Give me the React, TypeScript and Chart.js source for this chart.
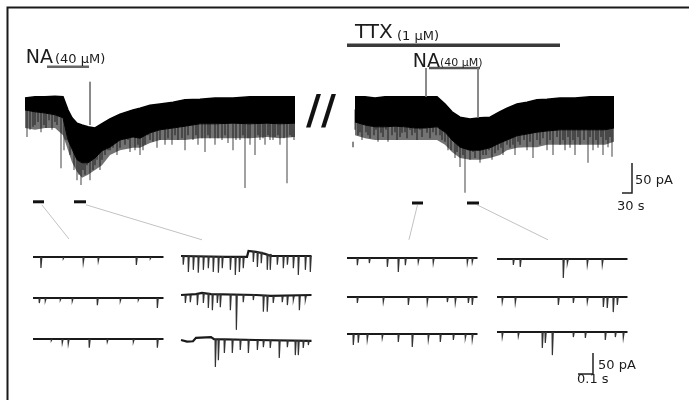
import React, { useEffect, useRef } from "react";
import { Chart, registerables } from "chart.js";

Chart.register(...registerables);

// ---------------- Whole-cell recordings ----------------
// time: s from the start of each recording, current: pA (0 = holding current)
const leftTime = [0, 30, 60, 90, 114, 129, 141, 156, 171, 189, 210, 231, 255, 285, 324, 345, 375, 405, 444, 480, 525, 570, 624, 675, 726, 765, 810];
const leftTop = [0, 2, 2, 3, 2, -20, -33, -42, -45, -48, -50, -43, -35, -27, -20, -17, -12, -10, -7, -3, -2, 0, 0, 2, 2, 2, 2];
// lower edge of the solid noise band
const leftLow = [-20, -23, -25, -28, -33, -70, -85, -103, -108, -108, -100, -88, -82, -70, -65, -67, -58, -53, -50, -47, -43, -43, -42, -43, -42, -43, -42];
// lower edge of the dense event fringe
const leftFringe = [-50, -53, -50, -50, -62, -87, -107, -123, -133, -128, -120, -112, -95, -87, -83, -83, -75, -70, -70, -70, -67, -67, -67, -67, -65, -67, -65];
// sEPSC peaks [time s, peak pA]
const leftSpikes = [
  [6, -65], [15, -53], [24, -48], [30, -45], [39, -40], [48, -57], [57, -45], [63, -50], [72, -37], [81, -53], [90, -40], [96, -45],
  [108, -117], [117, -87], [123, -70], [135, -95], [147, -120], [156, -137], [162, -128], [168, -145], [174, -120], [180, -128],
  [186, -112], [195, -137], [204, -120], [210, -112], [216, -103], [225, -120], [231, -103], [240, -95], [249, -87], [255, -87],
  [264, -83], [276, -95], [285, -83], [300, -78], [309, -70], [315, -90], [330, -87], [339, -78], [345, -95], [354, -87],
  [360, -78], [369, -62], [375, -70], [384, -73], [396, -83], [405, -70], [420, -78], [429, -67], [441, -78], [450, -62],
  [459, -70], [471, -67], [480, -87], [489, -62], [504, -70], [513, -62], [519, -78], [531, -67], [540, -90], [549, -62],
  [555, -67], [570, -78], [579, -67], [591, -70], [600, -62], [609, -75], [624, -87], [633, -70], [645, -70], [654, -62],
  [660, -150], [669, -67], [675, -78], [690, -95], [699, -62], [705, -70], [714, -67], [720, -78], [729, -62], [735, -70],
  [744, -70], [750, -65], [759, -62], [765, -78], [777, -67], [786, -142], [795, -62], [801, -65], [807, -70],
];

const rightTime = [0, 30, 60, 90, 120, 150, 180, 210, 246, 270, 291, 315, 345, 375, 405, 435, 456, 486, 516, 546, 576, 615, 660, 705, 750, 777];
const rightTop = [2, 2, 0, 2, 2, 2, 2, 2, 2, -10, -23, -32, -35, -33, -32, -23, -17, -10, -7, -3, -2, 0, 0, 2, 2, 2];
const rightLow = [-40, -45, -48, -48, -47, -48, -50, -50, -48, -57, -70, -82, -87, -87, -83, -75, -70, -63, -60, -57, -55, -53, -53, -53, -53, -50];
const rightFringe = [-62, -67, -70, -70, -70, -70, -70, -70, -70, -78, -90, -100, -103, -103, -100, -95, -87, -83, -82, -82, -78, -78, -78, -78, -78, -73];
const rightSpikes = [
  [0, -53], [9, -62], [15, -57], [21, -70], [33, -57], [39, -62], [45, -67], [57, -62], [63, -53], [69, -73], [78, -58],
  [84, -65], [93, -53], [99, -73], [111, -62], [120, -57], [126, -70], [135, -65], [141, -58], [150, -57], [156, -67],
  [165, -53], [171, -62], [180, -58], [186, -70], [195, -53], [201, -65], [216, -58], [225, -67], [234, -57], [243, -62],
  [255, -62], [261, -70], [270, -73], [279, -87], [288, -87], [300, -100], [306, -90], [315, -115], [324, -95], [330, -158],
  [339, -87], [345, -103], [354, -90], [360, -100], [369, -87], [375, -108], [384, -95], [393, -95], [402, -87], [411, -103],
  [420, -92], [429, -87], [438, -83], [444, -95], [456, -78], [465, -83], [474, -78], [480, -95], [489, -73], [495, -78],
  [507, -70], [516, -87], [525, -73], [534, -100], [546, -70], [555, -78], [564, -67], [576, -87], [585, -70], [594, -95],
  [606, -65], [615, -78], [624, -70], [630, -87], [639, -65], [645, -83], [654, -70], [660, -95], [669, -65], [675, -78],
  [687, -70], [699, -108], [705, -65], [714, -87], [723, -70], [729, -83], [738, -65], [744, -95], [753, -70], [759, -82],
  [765, -65], [771, -98],
];

// Drug applications (s, relative to their recording)
const naLeft = [66, 192];
const ttxRight = [-24, 615];
const naRight = [222, 375];
// Perfusion-switch artefacts [time s, from pA, to pA]
const leftArtefacts = [[195, 27, -45]];
const rightArtefacts = [[213, 50, 2], [369, 50, -33], [-6, -73, -82]];
// Epochs expanded below [start s, end s]
const leftEpochs = [[24, 57], [147, 183]];
const rightEpochs = [[171, 204], [336, 372]];

// ---------------- Expanded sweeps ----------------
// events [time s from sweep start, peak pA relative to sweep baseline]
const sweepDuration = 0.87;
const ctrlSweeps = [
  [[0.051, -26], [0.2, -4], [0.333, -14], [0.433, -10], [0.687, -19], [0.78, -4]],
  [[0.04, -12], [0.08, -7], [0.18, -5], [0.26, -7], [0.427, -17], [0.58, -7], [0.7, -5], [0.827, -24]],
  [[0.12, -4], [0.193, -10], [0.233, -12], [0.373, -21], [0.493, -7], [0.667, -7], [0.827, -21]],
];
const naSweeps = [
  [[0.013, -21], [0.047, -38], [0.08, -33], [0.113, -40], [0.147, -33], [0.18, -29], [0.213, -38], [0.247, -40], [0.273, -29],
    [0.327, -33], [0.36, -45], [0.387, -38], [0.413, -29], [0.48, -14], [0.507, -26], [0.533, -17], [0.573, -33], [0.593, -33],
    [0.64, -21], [0.68, -29], [0.707, -21], [0.747, -29], [0.78, -45], [0.827, -33], [0.86, -38]],
  [[0.027, -19], [0.06, -17], [0.107, -24], [0.147, -19], [0.18, -31], [0.207, -36], [0.24, -19], [0.26, -29], [0.327, -36],
    [0.367, -83], [0.413, -17], [0.48, -12], [0.547, -40], [0.573, -40], [0.613, -19], [0.673, -17], [0.707, -24], [0.747, -12],
    [0.787, -36], [0.827, -12]],
  [[0.227, -64], [0.247, -48], [0.287, -31], [0.34, -31], [0.393, -24], [0.447, -31], [0.507, -24], [0.547, -17], [0.593, -19],
    [0.653, -43], [0.707, -17], [0.76, -36], [0.78, -36], [0.813, -19], [0.847, -12]],
];
// baseline drift of the NA sweeps [time s, pA]
const naSweepBaselines = [
  [[0, 0], [0.3, -2], [0.44, -2], [0.45, 12], [0.5, 10], [0.56, 5], [0.6, 0], [0.87, 0]],
  [[0, 0], [0.1, 2], [0.14, 5], [0.2, 2], [0.5, 0], [0.6, -2], [0.87, 0]],
  [[0, 0], [0.04, -4], [0.08, -3], [0.1, 5], [0.2, 7], [0.22, 2], [0.5, 0], [0.87, -2]],
];
const ttxSweeps = [
  [[0.067, -17], [0.147, -12], [0.267, -21], [0.34, -33], [0.387, -17], [0.473, -10], [0.573, -12], [0.8, -12], [0.833, -10]],
  [[0.067, -14], [0.24, -12], [0.407, -19], [0.533, -14], [0.667, -12], [0.72, -14], [0.807, -14], [0.833, -19]],
  [[0.04, -26], [0.073, -21], [0.133, -14], [0.233, -10], [0.34, -19], [0.433, -31], [0.54, -14], [0.62, -19], [0.707, -14],
    [0.787, -10], [0.833, -14]],
];
const ttxNaSweeps = [
  [[0.107, -14], [0.153, -19], [0.44, -45], [0.467, -10], [0.6, -14], [0.7, -14]],
  [[0.033, -12], [0.12, -14], [0.407, -19], [0.507, -14], [0.6, -12], [0.707, -24], [0.733, -26], [0.773, -36], [0.8, -19]],
  [[0.033, -12], [0.14, -10], [0.3, -38], [0.32, -26], [0.367, -55], [0.507, -12], [0.587, -14], [0.72, -19], [0.787, -12],
    [0.84, -14]],
];

// Scale bars
const mainBar = { pA: 50, s: 30 };
const insetBar = { pA: 50, s: 0.1 };

// ---------------- Layout (positions in axis units) ----------------
const LAYOUT = {
  rightOffset: 990,
  naLeftLevel: 52,
  ttxLevel: 88,
  naRightLevel: 50,
  leftEpochLevel: -173,
  rightEpochLevel: -175,
  connectorStartLevel: -178,
  mainBarX: 1821,
  mainBarY: -158.3,
  insetCols: [0.22, 1.2067, 2.3133, 3.3133],
  insetRows: [
    [-611.9, -709.5, -807.1],
    [-609.5, -702.4, -809.5],
    [-614.3, -707.1, -795.2],
    [-616.7, -707.1, -790.5],
  ],
  connectorStartFrac: [0.8, 1, 0.5, 0.83],
  connectorEndDx: [0.24, 0.14, 0.413, 0.34],
  connectorEndY: [-569, -571, -571, -571],
  insetBarX: 3.9533,
  insetBarY: -890.5,
};

const FONT = '"DejaVu Sans", "Liberation Sans", sans-serif';

export default function App() {
  const ref = useRef<HTMLCanvasElement>(null);

  useEffect(() => {
    const canvas = ref.current;
    if (!canvas) return;
    const datasets: any[] = [];
    const M = { xAxisID: "x", yAxisID: "y" };
    const I = { xAxisID: "xi", yAxisID: "yi" };
    const add = (data: any[], color: string, width: number, axes: any, extra: any = {}) => {
      datasets.push({
        data,
        borderColor: color,
        backgroundColor: color,
        borderWidth: width,
        pointRadius: 0,
        pointHoverRadius: 0,
        pointHitRadius: 0,
        tension: 0,
        fill: false,
        borderCapStyle: "butt",
        borderJoinStyle: "miter",
        spanGaps: false,
        ...axes,
        ...extra,
      });
    };
    const nearest = (arr: number[], t: number) => {
      let k = 0;
      arr.forEach((v, i) => {
        if (Math.abs(v - t) < Math.abs(arr[k] - t)) k = i;
      });
      return k;
    };

    const addRecording = (
      time: number[], top: number[], low: number[], fringe: number[],
      spikes: number[][], arts: number[][], off: number
    ) => {
      const sp: any[] = [];
      spikes.forEach(([t, v]) => {
        const k = nearest(time, t);
        const s = (top[k] + low[k]) / 2;
        sp.push({ x: t + off, y: s }, { x: t + off, y: v }, { x: t + off, y: null });
      });
      add(sp, "#555", 1.1, M, { order: 3 });
      add(time.map((t, i) => ({ x: t + off, y: top[i] })), "#000", 1.6, M, { fill: "+1", order: 2 });
      add(time.map((t, i) => ({ x: t + off, y: low[i] })), "#000", 1, M, {
        fill: "+1", backgroundColor: "rgba(0,0,0,0.55)", order: 2,
      });
      add(time.map((t, i) => ({ x: t + off, y: fringe[i] })), "rgba(0,0,0,0)", 0, M, { order: 2 });
      const ar: any[] = [];
      arts.forEach(([t, a, b]) => ar.push({ x: t + off, y: a }, { x: t + off, y: b }, { x: t + off, y: null }));
      add(ar, "#7a7a7a", 1, M);
    };

    const R = LAYOUT.rightOffset;
    addRecording(leftTime, leftTop, leftLow, leftFringe, leftSpikes, leftArtefacts, 0);
    addRecording(rightTime, rightTop, rightLow, rightFringe, rightSpikes, rightArtefacts, R);

    // drug bars
    add([{ x: naLeft[0], y: LAYOUT.naLeftLevel }, { x: naLeft[1], y: LAYOUT.naLeftLevel }], "#666", 2.5, M);
    add([{ x: ttxRight[0] + R, y: LAYOUT.ttxLevel }, { x: ttxRight[1] + R, y: LAYOUT.ttxLevel }], "#3a3a3a", 3.5, M);
    add([{ x: naRight[0] + R, y: LAYOUT.naRightLevel }, { x: naRight[1] + R, y: LAYOUT.naRightLevel }], "#555", 2.5, M);

    // epoch markers
    leftEpochs.forEach(([a, b]) =>
      add([{ x: a, y: LAYOUT.leftEpochLevel }, { x: b, y: LAYOUT.leftEpochLevel }], "#111", 3, M)
    );
    rightEpochs.forEach(([a, b]) =>
      add([{ x: a + R, y: LAYOUT.rightEpochLevel }, { x: b + R, y: LAYOUT.rightEpochLevel }], "#111", 3, M)
    );

    // main scale bar
    add(
      [
        { x: LAYOUT.mainBarX - mainBar.s, y: LAYOUT.mainBarY },
        { x: LAYOUT.mainBarX, y: LAYOUT.mainBarY },
        { x: LAYOUT.mainBarX, y: LAYOUT.mainBarY + mainBar.pA },
      ],
      "#222",
      1.5,
      M
    );

    // expanded sweeps
    const sweepSets = [ctrlSweeps, naSweeps, ttxSweeps, ttxNaSweeps];
    sweepSets.forEach((rows, c) =>
      rows.forEach((events, r) => {
        const x0 = LAYOUT.insetCols[c];
        const y0 = LAYOUT.insetRows[c][r];
        const bl = c === 1 ? naSweepBaselines[r] : [[0, 0], [sweepDuration, 0]];
        const localAt = (t: number) => {
          let v = bl[0][1];
          bl.forEach(([bt, bv]) => {
            if (bt <= t) v = bv;
          });
          return v;
        };
        const ev: any[] = [];
        events.forEach(([t, a]) => {
          const b = localAt(t);
          ev.push(
            { x: x0 + t, y: y0 + b },
            { x: x0 + t + 0.002, y: y0 + a },
            { x: x0 + t + 0.008, y: y0 + b },
            { x: x0 + t, y: null }
          );
        });
        add(ev, "#333", 1.2, I);
        add(bl.map(([t, v]) => ({ x: x0 + t, y: y0 + v })), "#1a1a1a", 2.2, I);
      })
    );

    // inset scale bar
    add(
      [
        { x: LAYOUT.insetBarX - insetBar.s, y: LAYOUT.insetBarY },
        { x: LAYOUT.insetBarX, y: LAYOUT.insetBarY },
        { x: LAYOUT.insetBarX, y: LAYOUT.insetBarY + insetBar.pA },
      ],
      "#222",
      1.5,
      I
    );

    const decor = {
      id: "decor",
      beforeDatasetsDraw(chart: any) {
        const { ctx, chartArea: a, scales } = chart;
        const X = (v: number) => scales.x.getPixelForValue(v);
        const Y = (v: number) => scales.y.getPixelForValue(v);
        const XI = (v: number) => scales.xi.getPixelForValue(v);
        const YI = (v: number) => scales.yi.getPixelForValue(v);
        ctx.save();
        // frame
        ctx.strokeStyle = "#1a1a1a";
        ctx.lineWidth = 2;
        ctx.beginPath();
        ctx.moveTo(a.left + 7.5, a.bottom);
        ctx.lineTo(a.left + 7.5, a.top + 7.5);
        ctx.lineTo(a.right, a.top + 7.5);
        ctx.stroke();
        // connectors from epochs to the expanded sweeps
        const epochs = [
          ...leftEpochs.map(([s, e]) => [s, e]),
          ...rightEpochs.map(([s, e]) => [s + R, e + R]),
        ];
        ctx.strokeStyle = "#c2c2c2";
        ctx.lineWidth = 1;
        epochs.forEach(([s, e], i) => {
          const xs = s + (e - s) * LAYOUT.connectorStartFrac[i];
          ctx.beginPath();
          ctx.moveTo(X(xs), Y(LAYOUT.connectorStartLevel));
          ctx.lineTo(XI(LAYOUT.insetCols[i] + LAYOUT.connectorEndDx[i]), YI(LAYOUT.connectorEndY[i]));
          ctx.stroke();
        });
        ctx.restore();
      },
      afterDatasetsDraw(chart: any) {
        const { ctx, scales } = chart;
        const X = (v: number) => scales.x.getPixelForValue(v);
        const Y = (v: number) => scales.y.getPixelForValue(v);
        const XI = (v: number) => scales.xi.getPixelForValue(v);
        const YI = (v: number) => scales.yi.getPixelForValue(v);
        ctx.save();
        ctx.fillStyle = "#1c1c1c";
        ctx.textBaseline = "alphabetic";
        const txt = (s: string, x: number, y: number, size: number, align = "left", weight = "normal") => {
          ctx.font = `${weight} ${size}px ${FONT}`;
          ctx.textAlign = align;
          ctx.fillText(s, x, y);
        };
        // left NA
        txt("NA", X(naLeft[0]) + 6, Y(LAYOUT.naLeftLevel) - 4, 19, "right");
        txt("(40 μM)", X(naLeft[0]) + 8, Y(LAYOUT.naLeftLevel) - 4, 13);
        // TTX
        txt("TTX", X(ttxRight[0] + R) + 8, Y(LAYOUT.ttxLevel) - 7, 20);
        txt("(1 μM)", X(ttxRight[0] + R) + 50, Y(LAYOUT.ttxLevel) - 5, 13);
        // right NA
        txt("NA", X(naRight[0] + R) + 11, Y(LAYOUT.naRightLevel) - 1, 19, "right");
        txt("(40 μM)", X(naRight[0] + R) + 11, Y(LAYOUT.naRightLevel) - 2, 11);
        // break mark
        ctx.fillStyle = "#111";
        txt("//", X(leftTime[leftTime.length - 1]) + 11, Y(0) + 26, 41, "left", "bold");
        ctx.fillStyle = "#1c1c1c";
        // scale bars
        txt(`${mainBar.pA} pA`, X(LAYOUT.mainBarX) + 3, Y(LAYOUT.mainBarY) - 9, 13);
        txt(`${mainBar.s} s`, X(LAYOUT.mainBarX) - 15, Y(LAYOUT.mainBarY) + 17, 13);
        txt(`${insetBar.pA} pA`, XI(LAYOUT.insetBarX) + 5, YI(LAYOUT.insetBarY) - 5, 13);
        txt(`${insetBar.s} s`, XI(LAYOUT.insetBarX - insetBar.s) - 1, YI(LAYOUT.insetBarY) + 9, 13);
        ctx.restore();
      },
    };

    const hidden = { type: "linear", display: false, grid: { display: false } };
    const chart = new Chart(canvas, {
      type: "line",
      data: { datasets },
      options: {
        animation: false,
        responsive: false,
        devicePixelRatio: 1,
        events: [],
        layout: { padding: 0 },
        plugins: { legend: { display: false }, tooltip: { enabled: false }, title: { display: false } },
        scales: {
          x: { ...hidden, min: -75, max: 1992 },
          y: { ...hidden, min: -503.33, max: 163.33 },
          xi: { ...hidden, axis: "x", min: 0, max: 4.5933 },
          yi: { ...hidden, axis: "y", min: -952.38, max: 0 },
        },
      } as any,
      plugins: [decor as any],
    });
    return () => chart.destroy();
  }, []);

  return (
    <div style={{ position: "fixed", left: 0, top: 0, width: 689, height: 400, background: "#fff" }}>
      <canvas ref={ref} width={689} height={400} style={{ display: "block", width: 689, height: 400 }} />
    </div>
  );
}
